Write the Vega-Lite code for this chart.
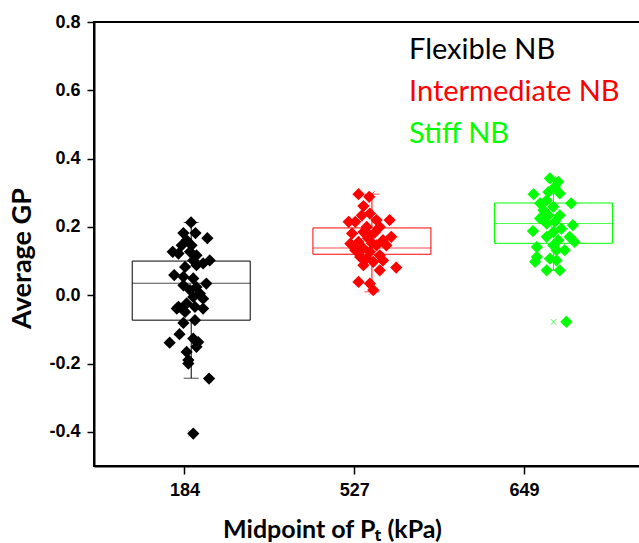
{
  "$schema": "https://vega.github.io/schema/vega-lite/v6.json",
  "width": 546,
  "height": 444,
  "autosize": {"type": "none"},
  "padding": {"left": 94, "top": 22, "right": 0, "bottom": 77},
  "background": "white",
  "config": {"view": {"stroke": "black", "strokeWidth": 2}},
  "datasets": {
    "points": [
      {"group": "Flexible NB", "pos": 1.039, "gp": 0.213},
      {"group": "Flexible NB", "pos": 0.994, "gp": 0.182},
      {"group": "Flexible NB", "pos": 1.065, "gp": 0.182},
      {"group": "Flexible NB", "pos": 1.135, "gp": 0.167},
      {"group": "Flexible NB", "pos": 1.013, "gp": 0.161},
      {"group": "Flexible NB", "pos": 1.042, "gp": 0.146},
      {"group": "Flexible NB", "pos": 0.984, "gp": 0.146},
      {"group": "Flexible NB", "pos": 0.931, "gp": 0.127},
      {"group": "Flexible NB", "pos": 0.965, "gp": 0.122},
      {"group": "Flexible NB", "pos": 1.033, "gp": 0.127},
      {"group": "Flexible NB", "pos": 1.071, "gp": 0.117},
      {"group": "Flexible NB", "pos": 1.149, "gp": 0.102},
      {"group": "Flexible NB", "pos": 1.052, "gp": 0.102},
      {"group": "Flexible NB", "pos": 1.110, "gp": 0.093},
      {"group": "Flexible NB", "pos": 1.004, "gp": 0.083},
      {"group": "Flexible NB", "pos": 1.071, "gp": 0.088},
      {"group": "Flexible NB", "pos": 0.940, "gp": 0.059},
      {"group": "Flexible NB", "pos": 0.994, "gp": 0.054},
      {"group": "Flexible NB", "pos": 1.052, "gp": 0.049},
      {"group": "Flexible NB", "pos": 1.129, "gp": 0.034},
      {"group": "Flexible NB", "pos": 0.994, "gp": 0.029},
      {"group": "Flexible NB", "pos": 1.071, "gp": 0.024},
      {"group": "Flexible NB", "pos": 1.033, "gp": 0.015},
      {"group": "Flexible NB", "pos": 1.091, "gp": 0.005},
      {"group": "Flexible NB", "pos": 1.052, "gp": -0.005},
      {"group": "Flexible NB", "pos": 1.110, "gp": -0.010},
      {"group": "Flexible NB", "pos": 1.013, "gp": -0.024},
      {"group": "Flexible NB", "pos": 0.965, "gp": -0.034},
      {"group": "Flexible NB", "pos": 1.062, "gp": -0.034},
      {"group": "Flexible NB", "pos": 0.955, "gp": -0.039},
      {"group": "Flexible NB", "pos": 1.110, "gp": -0.039},
      {"group": "Flexible NB", "pos": 1.004, "gp": -0.049},
      {"group": "Flexible NB", "pos": 1.062, "gp": -0.073},
      {"group": "Flexible NB", "pos": 0.994, "gp": -0.081},
      {"group": "Flexible NB", "pos": 0.971, "gp": -0.114},
      {"group": "Flexible NB", "pos": 0.913, "gp": -0.139},
      {"group": "Flexible NB", "pos": 1.052, "gp": -0.127},
      {"group": "Flexible NB", "pos": 1.081, "gp": -0.137},
      {"group": "Flexible NB", "pos": 1.071, "gp": -0.151},
      {"group": "Flexible NB", "pos": 1.013, "gp": -0.166},
      {"group": "Flexible NB", "pos": 1.023, "gp": -0.190},
      {"group": "Flexible NB", "pos": 1.023, "gp": -0.200},
      {"group": "Flexible NB", "pos": 1.145, "gp": -0.244},
      {"group": "Flexible NB", "pos": 1.052, "gp": -0.405},
      {"group": "Intermediate NB", "pos": 2.025, "gp": 0.296},
      {"group": "Intermediate NB", "pos": 2.088, "gp": 0.288},
      {"group": "Intermediate NB", "pos": 2.054, "gp": 0.261},
      {"group": "Intermediate NB", "pos": 2.092, "gp": 0.239},
      {"group": "Intermediate NB", "pos": 2.045, "gp": 0.234},
      {"group": "Intermediate NB", "pos": 2.208, "gp": 0.220},
      {"group": "Intermediate NB", "pos": 1.967, "gp": 0.215},
      {"group": "Intermediate NB", "pos": 2.006, "gp": 0.215},
      {"group": "Intermediate NB", "pos": 2.131, "gp": 0.220},
      {"group": "Intermediate NB", "pos": 2.073, "gp": 0.200},
      {"group": "Intermediate NB", "pos": 2.150, "gp": 0.200},
      {"group": "Intermediate NB", "pos": 1.987, "gp": 0.181},
      {"group": "Intermediate NB", "pos": 2.054, "gp": 0.185},
      {"group": "Intermediate NB", "pos": 2.218, "gp": 0.171},
      {"group": "Intermediate NB", "pos": 2.092, "gp": 0.176},
      {"group": "Intermediate NB", "pos": 2.169, "gp": 0.161},
      {"group": "Intermediate NB", "pos": 1.977, "gp": 0.151},
      {"group": "Intermediate NB", "pos": 2.025, "gp": 0.156},
      {"group": "Intermediate NB", "pos": 2.131, "gp": 0.146},
      {"group": "Intermediate NB", "pos": 2.189, "gp": 0.146},
      {"group": "Intermediate NB", "pos": 2.054, "gp": 0.137},
      {"group": "Intermediate NB", "pos": 2.006, "gp": 0.132},
      {"group": "Intermediate NB", "pos": 2.092, "gp": 0.127},
      {"group": "Intermediate NB", "pos": 2.150, "gp": 0.117},
      {"group": "Intermediate NB", "pos": 2.035, "gp": 0.112},
      {"group": "Intermediate NB", "pos": 2.169, "gp": 0.102},
      {"group": "Intermediate NB", "pos": 2.073, "gp": 0.107},
      {"group": "Intermediate NB", "pos": 2.054, "gp": 0.088},
      {"group": "Intermediate NB", "pos": 2.112, "gp": 0.098},
      {"group": "Intermediate NB", "pos": 2.150, "gp": 0.073},
      {"group": "Intermediate NB", "pos": 2.247, "gp": 0.081},
      {"group": "Intermediate NB", "pos": 2.025, "gp": 0.039},
      {"group": "Intermediate NB", "pos": 2.092, "gp": 0.034},
      {"group": "Intermediate NB", "pos": 2.112, "gp": 0.015},
      {"group": "Intermediate NB", "pos": 2.104, "gp": 0.152},
      {"group": "Intermediate NB", "pos": 2.081, "gp": 0.167},
      {"group": "Intermediate NB", "pos": 2.121, "gp": 0.184},
      {"group": "Stiff NB", "pos": 3.152, "gp": 0.342},
      {"group": "Stiff NB", "pos": 3.201, "gp": 0.332},
      {"group": "Stiff NB", "pos": 3.181, "gp": 0.317},
      {"group": "Stiff NB", "pos": 3.056, "gp": 0.296},
      {"group": "Stiff NB", "pos": 3.143, "gp": 0.302},
      {"group": "Stiff NB", "pos": 3.210, "gp": 0.298},
      {"group": "Stiff NB", "pos": 3.133, "gp": 0.278},
      {"group": "Stiff NB", "pos": 3.277, "gp": 0.269},
      {"group": "Stiff NB", "pos": 3.094, "gp": 0.269},
      {"group": "Stiff NB", "pos": 3.172, "gp": 0.259},
      {"group": "Stiff NB", "pos": 3.114, "gp": 0.249},
      {"group": "Stiff NB", "pos": 3.143, "gp": 0.234},
      {"group": "Stiff NB", "pos": 3.210, "gp": 0.234},
      {"group": "Stiff NB", "pos": 3.094, "gp": 0.225},
      {"group": "Stiff NB", "pos": 3.181, "gp": 0.215},
      {"group": "Stiff NB", "pos": 3.287, "gp": 0.205},
      {"group": "Stiff NB", "pos": 3.133, "gp": 0.210},
      {"group": "Stiff NB", "pos": 3.220, "gp": 0.195},
      {"group": "Stiff NB", "pos": 3.052, "gp": 0.188},
      {"group": "Stiff NB", "pos": 3.172, "gp": 0.185},
      {"group": "Stiff NB", "pos": 3.268, "gp": 0.171},
      {"group": "Stiff NB", "pos": 3.133, "gp": 0.171},
      {"group": "Stiff NB", "pos": 3.297, "gp": 0.156},
      {"group": "Stiff NB", "pos": 3.201, "gp": 0.161},
      {"group": "Stiff NB", "pos": 3.172, "gp": 0.146},
      {"group": "Stiff NB", "pos": 3.239, "gp": 0.132},
      {"group": "Stiff NB", "pos": 3.075, "gp": 0.141},
      {"group": "Stiff NB", "pos": 3.191, "gp": 0.132},
      {"group": "Stiff NB", "pos": 3.075, "gp": 0.112},
      {"group": "Stiff NB", "pos": 3.152, "gp": 0.107},
      {"group": "Stiff NB", "pos": 3.191, "gp": 0.102},
      {"group": "Stiff NB", "pos": 3.065, "gp": 0.098},
      {"group": "Stiff NB", "pos": 3.133, "gp": 0.073},
      {"group": "Stiff NB", "pos": 3.210, "gp": 0.073},
      {"group": "Stiff NB", "pos": 3.249, "gp": -0.078}
    ],
    "boxes": [
      {"group": "Flexible NB", "center": 1.040, "lo": -0.243, "q1": -0.073, "median": 0.035, "q3": 0.100, "hi": 0.213, "mean": 0.012, "min": -0.405, "max": 0.213},
      {"group": "Intermediate NB", "center": 2.104, "lo": 0.010, "q1": 0.120, "median": 0.138, "q3": 0.197, "hi": 0.296, "mean": 0.160, "min": 0.010, "max": 0.296},
      {"group": "Stiff NB", "center": 3.173, "lo": 0.073, "q1": 0.152, "median": 0.210, "q3": 0.270, "hi": 0.337, "mean": 0.205, "min": -0.078, "max": 0.342}
    ]
  },
  "layer": [
    {
      "data": {"name": "boxes"},
      "mark": {"type": "rule", "strokeWidth": 1},
      "encoding": {
        "x": {
          "field": "center", "type": "quantitative",
          "scale": {"domain": [0.497, 3.653], "nice": false, "zero": false},
          "axis": {
            "values": [1, 2, 3],
            "labelExpr": "datum.value == 1 ? '184' : datum.value == 2 ? '527' : '649'",
            "title": "Midpoint of Pₜ (kPa)",
            "grid": false,
            "domainColor": "black", "domainWidth": 2,
            "tickColor": "black", "tickWidth": 1.5, "tickSize": 8,
            "labelFont": "Liberation Sans", "labelFontWeight": "bold", "labelFontSize": 18, "labelColor": "black", "labelPadding": 7,
            "titleFont": "Lato", "titleFontWeight": "bold", "titleFontSize": 25, "titleColor": "black",
            "titleX": 238, "titleY": 71, "titleBaseline": "alphabetic", "titleAlign": "center"
          }
        },
        "y": {
          "field": "lo", "type": "quantitative",
          "scale": {"domain": [-0.5, 0.8], "nice": false, "zero": false},
          "axis": {
            "values": [-0.4, -0.3, -0.2, -0.1, 0, 0.1, 0.2, 0.3, 0.4, 0.5, 0.6, 0.7, 0.8],
            "labelExpr": "round(datum.value*10) % 2 != 0 ? '' : (datum.value < -0.001 ? '-' : '') + format(abs(datum.value), '.1f')",
            "tickSize": {"condition": {"test": "round(datum.value*10) % 2 != 0", "value": 4}, "value": 7},
            "title": "Average GP",
            "grid": false,
            "domainColor": "black", "domainWidth": 2,
            "tickColor": "black", "tickWidth": 1.5,
            "labelFont": "Liberation Sans", "labelFontWeight": "bold", "labelFontSize": 18, "labelColor": "black", "labelPadding": 7,
            "titleFont": "Lato", "titleFontWeight": "bold", "titleFontSize": 27, "titleColor": "black",
            "titleX": -72, "titleY": 236, "titleBaseline": "middle", "titleAlign": "center", "titleAngle": -90
          }
        },
        "y2": {"field": "q1"},
        "color": {
          "field": "group", "type": "nominal",
          "scale": {"domain": ["Flexible NB", "Intermediate NB", "Stiff NB"], "range": ["#000000", "#ff0000", "#00ff00"]},
          "legend": {
            "orient": "none", "legendX": 286, "legendY": 13, "title": null,
            "symbolSize": 0, "symbolStrokeWidth": 0, "symbolOpacity": 0,
            "labelFont": "Lato", "labelFontSize": 29, "labelOffset": 0, "labelLimit": 0,
            "rowPadding": 12, "padding": 0, "labelBaseline": "middle",
            "encode": {"labels": {"update": {"fill": {"scale": "color", "field": "value"}}}}
          }
        }
      }
    },
    {
      "data": {"name": "boxes"},
      "mark": {"type": "rule", "strokeWidth": 1},
      "encoding": {
        "x": {"field": "center", "type": "quantitative"},
        "y": {"field": "q3", "type": "quantitative"},
        "y2": {"field": "hi"},
        "color": {"field": "group", "type": "nominal"}
      }
    },
    {
      "data": {"name": "boxes"},
      "mark": {"type": "tick", "orient": "horizontal", "size": 15, "thickness": 1},
      "encoding": {
        "x": {"field": "center", "type": "quantitative"},
        "y": {"field": "lo", "type": "quantitative"},
        "color": {"field": "group", "type": "nominal"}
      }
    },
    {
      "data": {"name": "boxes"},
      "mark": {"type": "tick", "orient": "horizontal", "size": 15, "thickness": 1},
      "encoding": {
        "x": {"field": "center", "type": "quantitative"},
        "y": {"field": "hi", "type": "quantitative"},
        "color": {"field": "group", "type": "nominal"}
      }
    },
    {
      "data": {"name": "boxes"},
      "mark": {"type": "bar", "width": 118, "filled": false, "strokeWidth": 1},
      "encoding": {
        "x": {"field": "center", "type": "quantitative"},
        "y": {"field": "q1", "type": "quantitative"},
        "y2": {"field": "q3"},
        "color": {"field": "group", "type": "nominal"}
      }
    },
    {
      "data": {"name": "boxes"},
      "mark": {"type": "tick", "orient": "horizontal", "size": 118, "thickness": 1},
      "encoding": {
        "x": {"field": "center", "type": "quantitative"},
        "y": {"field": "median", "type": "quantitative"},
        "color": {"field": "group", "type": "nominal"}
      }
    },
    {
      "data": {"name": "points"},
      "mark": {"type": "point", "shape": "diamond", "filled": true, "size": 150, "opacity": 1},
      "encoding": {
        "x": {"field": "pos", "type": "quantitative"},
        "y": {"field": "gp", "type": "quantitative"},
        "color": {"field": "group", "type": "nominal"}
      }
    },
    {
      "data": {"name": "boxes"},
      "mark": {"type": "point", "shape": "square", "filled": false, "size": 20, "strokeWidth": 1},
      "encoding": {
        "x": {"field": "center", "type": "quantitative"},
        "y": {"field": "mean", "type": "quantitative"},
        "color": {"field": "group", "type": "nominal"}
      }
    },
    {
      "data": {"name": "boxes"},
      "mark": {"type": "point", "shape": "M-1,-1L1,1M1,-1L-1,1", "filled": false, "size": 30, "strokeWidth": 1},
      "encoding": {
        "x": {"field": "center", "type": "quantitative"},
        "y": {"field": "min", "type": "quantitative"},
        "color": {"field": "group", "type": "nominal"}
      }
    },
    {
      "data": {"name": "boxes"},
      "mark": {"type": "point", "shape": "M-1,-1L1,1M1,-1L-1,1", "filled": false, "size": 30, "strokeWidth": 1},
      "encoding": {
        "x": {"field": "center", "type": "quantitative"},
        "y": {"field": "max", "type": "quantitative"},
        "color": {"field": "group", "type": "nominal"}
      }
    }
  ]
}
